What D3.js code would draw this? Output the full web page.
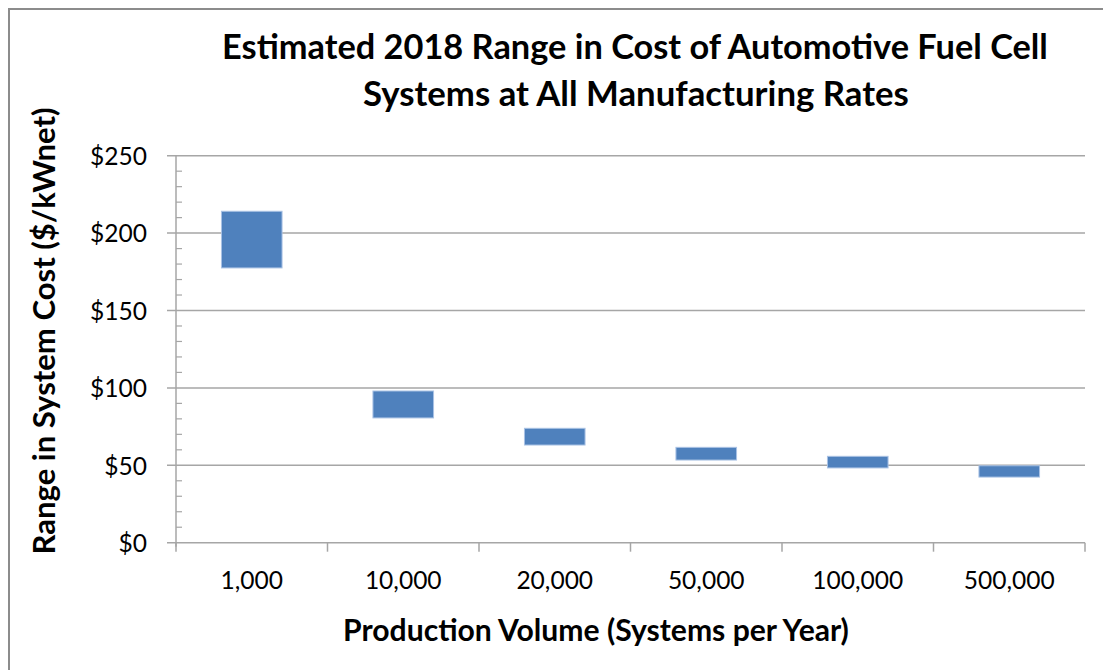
<!DOCTYPE html>
<html><head><meta charset="utf-8">
<script src="https://cdn.jsdelivr.net/npm/d3@7"></script>
<style>body{margin:0;background:#fff}svg{display:block}</style>
</head><body>
<svg id="c" width="1103" height="670"></svg>
<script>
const categories = ["1,000","10,000","20,000","50,000","100,000","500,000"];
const lowValues  = [177.5, 80.6, 63.1, 53.4, 48.3, 42.4];
const highValues = [214.1, 98.0, 73.9, 61.6, 55.8, 49.7];
const yTicks = [0, 50, 100, 150, 200, 250];
const titleLines = ["Estimated 2018 Range in Cost of Automotive Fuel Cell","Systems at All Manufacturing Rates"];
const yTitle = "Range in System Cost ($/kWnet)";
const xTitle = "Production Volume (Systems per Year)";

const svg = d3.select("#c");
const font = "Lato, 'Open Sans', sans-serif";
const L = 176, R = 1085, T = 155.7, B = 542.7;

svg.append("rect").attr("x",9).attr("y",9).attr("width",1110).attr("height",680)
  .attr("fill","#fff").attr("stroke","#8c8c8c").attr("stroke-width",2);

const x = d3.scaleBand().domain(categories).range([L,R]).paddingInner(0.6).paddingOuter(0.3);
const xb = d3.scaleBand().domain(categories).range([L,R]);
const y = d3.scaleLinear().domain([0,250]).range([B,T]);

function fit(sel, w){ const n=sel.node(); const l=n.getComputedTextLength(); const fs=+sel.attr("font-size"); sel.attr("font-size", fs*w/l); }

// measure tick font size
const probe = svg.append("text").attr("font-family",font).attr("font-size",26).text("500,000");
fit(probe, 91);
const tickFs = +probe.attr("font-size");
probe.remove();

// gridlines
svg.append("g").selectAll("line").data(yTicks).join("line")
  .attr("x1",L-9).attr("x2",R).attr("y1",d=>y(d)).attr("y2",d=>y(d))
  .attr("stroke","#a6a6a6").attr("stroke-width",1.5);

// minor ticks
const minor = d3.range(10,250,10).filter(v=>v%50!==0);
svg.append("g").selectAll("line").data(minor).join("line")
  .attr("x1",L).attr("x2",L+6).attr("y1",d=>y(d)).attr("y2",d=>y(d))
  .attr("stroke","#a6a6a6").attr("stroke-width",1.2);

// y axis line
svg.append("line").attr("x1",L).attr("x2",L).attr("y1",T).attr("y2",B+4)
  .attr("stroke","#a6a6a6").attr("stroke-width",1.5);

// x category ticks
const bounds = categories.map(c=>xb(c)).concat([R]);
svg.append("g").selectAll("line").data(bounds).join("line")
  .attr("x1",d=>d).attr("x2",d=>d).attr("y1",B).attr("y2",B+9)
  .attr("stroke","#a6a6a6").attr("stroke-width",1.5);

// bars
svg.append("g").selectAll("rect").data(categories).join("rect")
  .attr("x",c=>x(c)).attr("width",x.bandwidth())
  .attr("y",(c,i)=>y(highValues[i]))
  .attr("height",(c,i)=>y(lowValues[i])-y(highValues[i]))
  .attr("fill","#4f81bd").attr("stroke","#a9c2e4").attr("stroke-width",1);

// y labels
svg.append("g").selectAll("text").data(yTicks).join("text")
  .attr("x",147).attr("y",d=>y(d)+9.3).attr("text-anchor","end")
  .attr("font-family",font).attr("font-size",tickFs).attr("fill","#000")
  .text(d=>"$"+d);

// x labels
svg.append("g").selectAll("text").data(categories).join("text")
  .attr("x",c=>xb(c)+xb.bandwidth()/2).attr("y",589).attr("text-anchor","middle")
  .attr("font-family",font).attr("font-size",tickFs).attr("fill","#000")
  .text(c=>c);

const t1 = svg.append("text").attr("x",635).attr("y",59).attr("text-anchor","middle")
  .attr("font-family",font).attr("font-weight","bold").attr("font-size",30).text(titleLines[0]);
fit(t1, 826);
const t2 = svg.append("text").attr("x",636).attr("y",106).attr("text-anchor","middle")
  .attr("font-family",font).attr("font-weight","bold").attr("font-size",30).text(titleLines[1]);
fit(t2, 546);

const xt = svg.append("text").attr("x",596).attr("y",641).attr("text-anchor","middle")
  .attr("font-family",font).attr("font-weight","bold").attr("font-size",24).text(xTitle);
fit(xt, 506);

const yt = svg.append("text").attr("transform","translate(55,331) rotate(-90)").attr("text-anchor","middle")
  .attr("font-family",font).attr("font-weight","bold").attr("font-size",24).text(yTitle);
fit(yt, 447);
</script>
</body></html>
